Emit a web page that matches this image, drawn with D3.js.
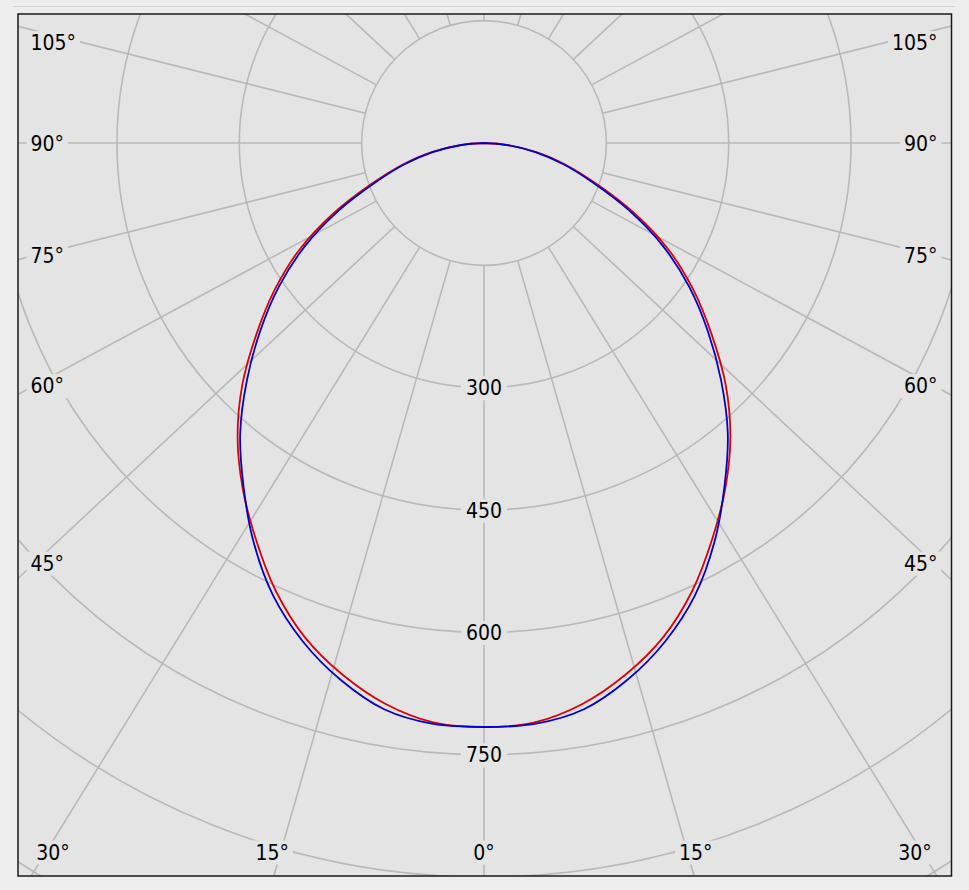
<!DOCTYPE html>
<html>
<head>
<meta charset="utf-8">
<script src="https://cdn.jsdelivr.net/npm/d3@7"></script>
<style>
html,body{margin:0;padding:0;background:#ededed;}
svg{display:block;}
</style>
</head>
<body>
<svg id="chart" width="969" height="890"></svg>
<script>
// ---- data ----
const angles   = [0,5,10,15,20,25,30,35,40,45,50,55,60,65,70,75,80,85,90];
const c0c180   = [716,713,698,674,644,605,560,516,470,419,364,313,261,203,147,104,66,29,0];   // red
const c90c270  = [716,715,705,681,650,612,565,514,465,411,358,307,254,197,142,101,63,28,0];   // blue
const ringValues      = [150,300,450,600,750,900,1050];
const ringLabelValues = [300,450,600,750];
const spokeAngles     = d3.range(0,360,15);
const angleLabels     = [0,15,30,45,60,75,90,105];

// ---- layout ----
const plot = {x0:18, y0:14, x1:951.5, y1:876};
const cx = 484, cy = 143;
const spokeStretch = 1.07;   // horizontal stretch of the spoke directions as drawn in the source
const r = d3.scaleLinear().domain([0,150]).range([0,122.35]);
const font = '"DejaVu Sans Condensed","DejaVu Sans","Liberation Sans",sans-serif';
const fontSize = '21px';
const plotBg = '#e4e4e4';
const gridColor = '#b9b9b9';

const svg = d3.select('#chart');
svg.append('line').attr('x1',13).attr('x2',955).attr('y1',6.5).attr('y2',6.5)
  .attr('stroke','#d4d4d4').attr('stroke-width',1);

svg.append('defs').append('clipPath').attr('id','clip')
  .append('rect').attr('x',plot.x0).attr('y',plot.y0)
  .attr('width',plot.x1-plot.x0).attr('height',plot.y1-plot.y0);

svg.append('rect').attr('x',plot.x0).attr('y',plot.y0)
  .attr('width',plot.x1-plot.x0).attr('height',plot.y1-plot.y0).attr('fill',plotBg);

const g = svg.append('g').attr('clip-path','url(#clip)');
const c = g.append('g').attr('transform',`translate(${cx},${cy})`);

// rings
c.selectAll('circle.ring').data(ringValues).join('circle')
  .attr('class','ring').attr('r',d=>r(d))
  .attr('fill','none').attr('stroke',gridColor).attr('stroke-width',1.6);

// spokes
const rad = d => d*Math.PI/180;
function spokeDir(a){
  const dx = spokeStretch*Math.sin(rad(a)), dy = Math.cos(rad(a));
  const n = Math.hypot(dx,dy);
  return [dx/n, dy/n];
}
c.selectAll('line.spoke').data(spokeAngles).join('line')
  .attr('class','spoke')
  .attr('x1',d=>spokeDir(d)[0]*r(150)).attr('y1',d=>spokeDir(d)[1]*r(150))
  .attr('x2',d=>spokeDir(d)[0]*r(1500)).attr('y2',d=>spokeDir(d)[1]*r(1500))
  .attr('stroke',gridColor).attr('stroke-width',1.6);

// curves
function fullCurve(vals){
  const left = angles.map((a,i)=>({a:-a, v:vals[i]})).reverse();
  const right = angles.slice(1).map((a,i)=>({a:a, v:vals[i+1]}));
  return left.concat(right);
}
const radial = d3.lineRadial()
  .angle(d=>Math.PI - rad(d.a))
  .radius(d=>r(d.v))
  .curve(d3.curveCatmullRom.alpha(0.5));

c.append('path').datum(fullCurve(c0c180)).attr('d',radial)
  .attr('fill','none').attr('stroke','#e00000').attr('stroke-width',1.8);
c.append('path').datum(fullCurve(c90c270)).attr('d',radial)
  .attr('fill','none').attr('stroke','#0000d0').attr('stroke-width',1.8);

// label helper
const labels = svg.append('g');
function addLabel(txt, x, y, anchor, padX, padY){
  const grp = labels.append('g');
  const rect = grp.append('rect').attr('fill',plotBg);
  const t = grp.append('text').text(txt)
    .attr('x',x).attr('y',y).attr('dy','0.36em')
    .attr('text-anchor',anchor)
    .style('font-family',font).style('font-size',fontSize).attr('fill','#000');
  const bb = t.node().getBBox();
  rect.attr('x',bb.x-padX).attr('y',bb.y-padY)
    .attr('width',bb.width+2*padX).attr('height',bb.height+2*padY);
  return t;
}
function textWidth(txt){
  const t = svg.append('text').text(txt).style('font-family',font).style('font-size',fontSize);
  const w = t.node().getComputedTextLength();
  t.remove();
  return w;
}

// ring labels
ringLabelValues.forEach(v=>{
  addLabel(String(v), cx, cy + r(v), 'middle', 5, 0);
});

// angle labels
const xl = plot.x0 + 12.5, xr = plot.x1 - 14, yb = plot.y1 - 24;
angleLabels.forEach(a=>{
  const sides = a === 0 ? [0] : [-1, 1];
  sides.forEach(s=>{
    const txt = a + '°';
    const w = textWidth(txt);
    if (a === 0){
      addLabel(txt, cx, yb, 'middle', 4, 0);
      return;
    }
    const t = Math.tan(rad(a));
    const rayX = a < 90 ? cx + s*(yb-cy)*t : Infinity*s;
    const bottomType = a < 90 && (s < 0 ? rayX >= xl + w : rayX <= xr - w);
    if (bottomType){
      if (s < 0) addLabel(txt, rayX - 5, yb, 'end', 4, 0);
      else addLabel(txt, rayX + 5, yb, 'start', 4, 0);
    } else {
      const xi = s < 0 ? xl + w : xr - w;
      let y = cy + Math.abs(xi - cx) * Math.cos(rad(a)) / Math.sin(rad(a));
      y = Math.max(y, plot.y0 + 28.5);
      if (s < 0) addLabel(txt, xl, y, 'start', 4, 0);
      else addLabel(txt, xr, y, 'end', 4, 0);
    }
  });
});

// border
svg.append('rect').attr('x',plot.x0).attr('y',plot.y0)
  .attr('width',plot.x1-plot.x0).attr('height',plot.y1-plot.y0)
  .attr('fill','none').attr('stroke','#1a1a1a').attr('stroke-width',1.5);
</script>
</body>
</html>
